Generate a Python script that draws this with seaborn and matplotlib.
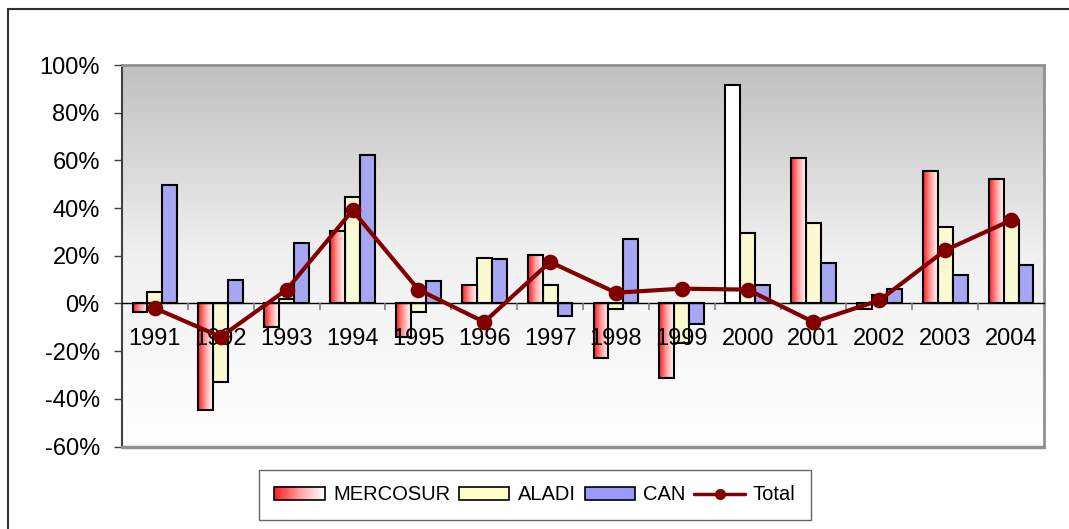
import numpy as np
import pandas as pd
import matplotlib
matplotlib.use("Agg")
import matplotlib.pyplot as plt
import seaborn as sns
from matplotlib.patches import Rectangle
from matplotlib.lines import Line2D
from matplotlib.colors import LinearSegmentedColormap
from matplotlib.ticker import FuncFormatter, FixedLocator
from matplotlib.legend_handler import HandlerBase
from matplotlib.image import BboxImage
from matplotlib.transforms import Bbox, TransformedBbox

years = ["1991", "1992", "1993", "1994", "1995", "1996", "1997",
         "1998", "1999", "2000", "2001", "2002", "2003", "2004"]
mercosur = [-3.4, -44.5, -10.0, 30.3, -14.0, 7.6, 20.2, -22.8, -31.2, 91.6, 61.2, -2.2, 55.6, 52.1]
aladi = [5.0, -32.8, 2.0, 44.7, -3.4, 19.2, 7.6, -2.5, -16.8, 29.5, 33.7, 3.4, 32.0, 35.2]
can = [49.6, 10.0, 25.3, 62.2, 9.4, 18.5, -5.3, 26.9, -8.5, 7.6, 16.9, 5.9, 11.8, 16.0]
total = [-2.0, -14.0, 5.8, 39.0, 5.8, -7.8, 17.4, 4.5, 6.2, 5.8, -7.8, 1.3, 22.3, 34.9]
series_names = ["MERCOSUR", "ALADI", "CAN"]
y_ticks = [-60, -40, -20, 0, 20, 40, 60, 80, 100]

# style
colors = {"MERCOSUR": "#ff6060", "ALADI": "#ffffcc", "CAN": "#9999ff"}
line_color = "#800000"
plain_white_years = {"2000"}  # rendered without gradient in the reference

sns.set_theme(style="white")
plt.rcParams["font.family"] = ["Liberation Sans", "DejaVu Sans"]
plt.rcParams["text.color"] = "black"
plt.rcParams["xtick.color"] = "black"
plt.rcParams["ytick.color"] = "black"
plt.rcParams["xtick.labelcolor"] = "black"
plt.rcParams["ytick.labelcolor"] = "black"

df = pd.DataFrame({
    "year": years * 3,
    "series": [s for s in series_names for _ in years],
    "value": mercosur + aladi + can,
})

W, H = 1069, 529
fig = plt.figure(figsize=(W / 100, H / 100), dpi=100)
ax = fig.add_axes([122 / W, 1 - 446.5 / H, (1044 - 122) / W, (446.5 - 65) / H])

# background gradient
grad = np.linspace(0, 1, 256).reshape(-1, 1)
bg_cmap = LinearSegmentedColormap.from_list("bg", ["#ffffff", "#f0f0f0", "#c0c0c0"])
ax.imshow(grad, extent=[0, 1, 0, 1], transform=ax.transAxes, cmap=bg_cmap,
          aspect="auto", origin="lower", zorder=0)

sns.barplot(data=df, x="year", y="value", hue="series", order=years,
            hue_order=series_names, palette=colors, width=0.68, gap=0,
            edgecolor="black", linewidth=1.5, legend=False, ax=ax, zorder=3)

# gradient fill for MERCOSUR bars
red_cmap = LinearSegmentedColormap.from_list("red", ["#ff1a1a", "#ffa0a0", "#ffffff"])
hgrad = np.linspace(0, 1, 256).reshape(1, -1)
merc_container = ax.containers[0]
for yr, patch in zip(years, merc_container.patches):
    x0, y0 = patch.get_x(), patch.get_y()
    w, h = patch.get_width(), patch.get_height()
    patch.set_facecolor("none")
    patch.set_zorder(4)
    if yr in plain_white_years:
        patch.set_facecolor("white")
        continue
    im = ax.imshow(hgrad, extent=[x0, x0 + w, min(y0, y0 + h), max(y0, y0 + h)],
                   cmap=red_cmap, aspect="auto", origin="lower", zorder=3.5)
    im.set_clip_path(patch)

sns.pointplot(x=years, y=total, order=years, color=line_color, markers="o",
              linestyles="-", errorbar=None, ax=ax, linewidth=3, markersize=9,
              zorder=6)

ax.set_xlim(-0.5, len(years) - 0.5)
ax.set_ylim(-60, 100)
ax.set_xlabel("")
ax.set_ylabel("")

ax.yaxis.set_major_locator(FixedLocator(y_ticks))
ax.yaxis.set_major_formatter(FuncFormatter(lambda v, p: f"{v:.0f}%"))
ax.tick_params(axis="y", which="major", direction="out", length=6, width=1,
               color="#404040", pad=10, labelsize=17, left=True)

# x axis at zero
ax.spines["bottom"].set_position(("data", 0))
ax.spines["bottom"].set_color("black")
ax.spines["bottom"].set_linewidth(1)
ax.spines["bottom"].set_zorder(5)
ax.set_xticks(range(len(years)))
ax.set_xticklabels(years)
ax.set_xticks(np.arange(0.5, len(years) - 0.5, 1), minor=True)
ax.tick_params(axis="x", which="major", length=0, pad=18, labelsize=17, bottom=True)
ax.tick_params(axis="x", which="minor", direction="out", length=5, width=1.2,
               color="#808080", bottom=True)
ax.xaxis.set_zorder(5.5)

ax.spines["left"].set_color("#404040")
ax.spines["left"].set_linewidth(1.5)
for s in ("top", "right"):
    ax.spines[s].set_color("#909090")
    ax.spines[s].set_linewidth(2)
ax.plot([0, 1], [0, 0], transform=ax.transAxes, color="#909090", lw=2.5,
        clip_on=False, zorder=5)

# outer chart border
fig.patches.append(Rectangle((8 / W, -0.02), 1.1, 1 - 9 / H + 0.02,
                             transform=fig.transFigure, fill=False,
                             edgecolor="#303030", lw=1.5))


class GradientHandler(HandlerBase):
    def create_artists(self, legend, orig_handle, xdescent, ydescent, width,
                       height, fontsize, trans):
        bb = Bbox.from_bounds(-xdescent, -ydescent, width, height)
        img = BboxImage(TransformedBbox(bb, trans), cmap=red_cmap,
                        interpolation="bilinear")
        img.set_data(hgrad)
        rect = Rectangle((-xdescent, -ydescent), width, height, facecolor="none",
                         edgecolor="black", lw=1.2, transform=trans)
        return [img, rect]


class GradientPatch:
    pass


handles = [
    GradientPatch(),
    Rectangle((0, 0), 1, 1, facecolor=colors["ALADI"], edgecolor="black", lw=1.2),
    Rectangle((0, 0), 1, 1, facecolor=colors["CAN"], edgecolor="black", lw=1.2),
    Line2D([], [], color=line_color, lw=2.5, marker="o", markersize=7),
]
labels = series_names + ["Total"]
leg = fig.legend(handles, labels, loc="center", bbox_to_anchor=(535 / W, 1 - 495 / H),
                 ncol=4, frameon=True, fancybox=False, fontsize=14.5,
                 handlelength=2.5, handleheight=0.65, handletextpad=0.4,
                 columnspacing=0.45, borderpad=0.75, borderaxespad=0,
                 handler_map={GradientPatch: GradientHandler()})
leg.get_frame().set_edgecolor("#404040")
leg.get_frame().set_linewidth(1)

fig.savefig("out.png", dpi=100)
